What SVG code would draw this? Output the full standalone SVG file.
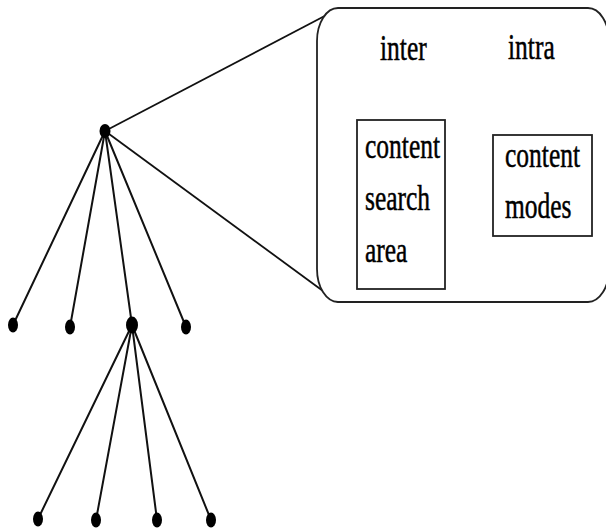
<svg xmlns="http://www.w3.org/2000/svg" width="606" height="531" viewBox="0 0 606 531">
<style>
.edge{stroke:#111;stroke-width:2;fill:none;stroke-linecap:round}
.thin{stroke:#111;stroke-width:1.8;fill:none}
.dot{fill:#000}
.box{fill:#fff;stroke:#222;stroke-width:1.8}
.t{font-family:"Liberation Serif","Times New Roman",serif;font-size:25.5px;fill:#000;stroke:#000;stroke-width:0.35}
</style>
<rect width="606" height="531" fill="#fff"/>
<g id="connectors">
<line class="edge" x1="105" y1="131" x2="13" y2="325"/>
<line class="edge" x1="105" y1="131" x2="70" y2="327"/>
<line class="edge" x1="105" y1="131" x2="132" y2="325"/>
<line class="edge" x1="105" y1="131" x2="186" y2="327"/>
<line class="edge" x1="132" y1="325" x2="38" y2="519"/>
<line class="edge" x1="132" y1="325" x2="96" y2="520"/>
<line class="edge" x1="132" y1="325" x2="157" y2="520"/>
<line class="edge" x1="132" y1="325" x2="211" y2="520"/>
<line class="thin" x1="105" y1="131" x2="338" y2="9"/>
<line class="thin" x1="105" y1="131" x2="338" y2="302"/>
</g>
<g id="detail">
<rect class="box" x="317" y="8" width="292" height="294" rx="21" ry="33"/>
<text class="t" transform="translate(380 60) scale(1 1.42)">inter</text>
<text class="t" transform="translate(508 59) scale(1 1.42)">intra</text>
</g>
<g id="inter-box">
<rect class="box" x="357" y="120" width="88" height="169"/>
<text class="t" transform="translate(365 158) scale(1 1.42)">content</text>
<text class="t" transform="translate(365 210) scale(1 1.42)">search</text>
<text class="t" transform="translate(365 262) scale(1 1.42)">area</text>
</g>
<g id="intra-box">
<rect class="box" x="493" y="135" width="99" height="101"/>
<text class="t" transform="translate(505 167) scale(1 1.42)">content</text>
<text class="t" transform="translate(505 218) scale(1 1.42)">modes</text>
</g>
<g id="root"><ellipse class="dot" cx="105" cy="131" rx="5.5" ry="7"/></g>
<g id="n1"><ellipse class="dot" cx="13" cy="325" rx="5" ry="7.5"/></g>
<g id="n2"><ellipse class="dot" cx="70" cy="327" rx="5" ry="7.5"/></g>
<g id="n3"><ellipse class="dot" cx="132" cy="325" rx="6" ry="8.5"/></g>
<g id="n4"><ellipse class="dot" cx="186" cy="327" rx="5" ry="7.5"/></g>
<g id="n5"><ellipse class="dot" cx="38" cy="519" rx="5" ry="7.5"/></g>
<g id="n6"><ellipse class="dot" cx="96" cy="520" rx="5" ry="7.5"/></g>
<g id="n7"><ellipse class="dot" cx="157" cy="520" rx="5" ry="7.5"/></g>
<g id="n8"><ellipse class="dot" cx="211" cy="520" rx="5" ry="7.5"/></g>
</svg>
